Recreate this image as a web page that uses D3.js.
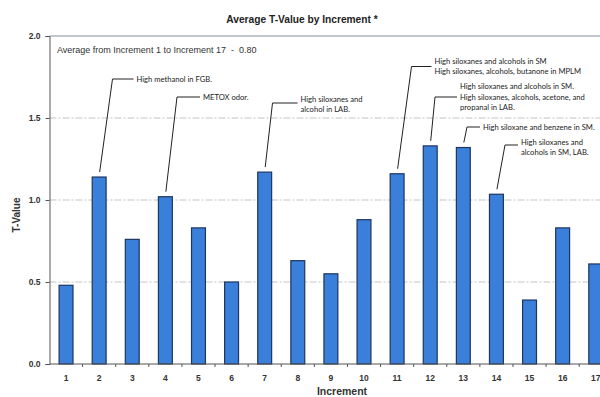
<!DOCTYPE html>
<html lang="en">
<head>
    <meta charset="UTF-8">
    <title>Average T-Value by Increment</title>
    <script src="https://d3js.org/d3.v7.min.js"></script>
    <style>
        body { margin: 0; background: #fff; }
        svg { display: block; }
    </style>
</head>
<body>
<svg width="600" height="397"></svg>
<script>

    // Data
    const increments = ["1","2","3","4","5","6","7","8","9","10","11","12","13","14","15","16","17"];
    const tValues = [0.48, 1.14, 0.76, 1.02, 0.83, 0.50, 1.17, 0.63, 0.55, 0.88, 1.16, 1.33, 1.32, 1.035, 0.39, 0.83, 0.61];
    const yTicks = [0, 0.5, 1.0, 1.5, 2.0];
    const averageNote = "Average from Increment 1 to Increment 17\u00a0\u00a0-\u00a0\u00a00.80";

    // annotation texts, keyed by increment
    const noteIncrements = ["2", "4", "7", "11", "12", "13", "14"];
    const noteTexts = [
        ["High methanol in FGB."],
        ["METOX odor."],
        ["High siloxanes and", "alcohol in LAB."],
        ["High siloxanes and alcohols in SM", "High siloxanes, alcohols, butanone in MPLM"],
        ["High siloxanes and alcohols in SM.", "High siloxanes, alcohols, acetone, and", "propanal in LAB."],
        ["High siloxane and benzene in SM."],
        ["High siloxanes and", "alcohols in SM, LAB."]
    ];

    // where each leader line bends (elbow x, elbow y, length of flat part, line index the flat part points at)
    const noteLayout = [
        [112.5, 79, 21, 0],
        [177, 97, 23, 0],
        [272.5, 103, 25, 0.35],
        [411.5, 66.5, 20, 0.5],
        [435, 97, 22, 1],
        [467, 127, 13, 0],
        [505, 145, 13, 0.25]
    ];

    const svg = d3.select("svg");
    const mLeft = 49.5, mTop = 36, mBottom = 364, mRight = 612.3;

    const x = d3.scaleBand()
        .domain(increments)
        .range([mLeft, mRight]);

    const y = d3.scaleLinear()
        .domain([0, 2])
        .range([mBottom, mTop]);

    const barW = x.bandwidth() * 0.42;

    // gridlines
    svg.append("g")
        .selectAll("line")
        .data(yTicks.filter(d => d > 0 && d < 2))
        .enter().append("line")
        .attr("x1", mLeft).attr("x2", 600)
        .attr("y1", d => y(d)).attr("y2", d => y(d))
        .attr("stroke", "#c4c4c4")
        .attr("stroke-width", 1)
        .attr("stroke-dasharray", "7,2,2,2");

    // top border at 2.0
    svg.append("line")
        .attr("x1", mLeft).attr("x2", 600)
        .attr("y1", y(2)).attr("y2", y(2))
        .attr("stroke", "#7f9096")
        .attr("stroke-width", 1);

    // bars
    svg.append("g")
        .selectAll("rect")
        .data(tValues)
        .enter().append("rect")
        .attr("x", (d, i) => x(increments[i]) + x.bandwidth() / 2 - barW / 2)
        .attr("y", d => y(d))
        .attr("width", barW)
        .attr("height", d => y(0) - y(d))
        .attr("fill", "#3a7fd9")
        .attr("stroke", "#1e3560")
        .attr("stroke-width", 1.2);

    // y axis
    const yAxis = d3.axisLeft(y)
        .tickValues(yTicks)
        .tickFormat(d3.format(".1f"))
        .tickSize(4)
        .tickPadding(5);
    const gy = svg.append("g")
        .attr("transform", `translate(${mLeft},0)`)
        .call(yAxis);
    gy.select(".domain").attr("stroke", "#555");
    gy.selectAll(".tick line").attr("stroke", "#555");
    gy.selectAll("text")
        .attr("font-family", "Liberation Sans, Arial, sans-serif")
        .attr("font-size", 8.5)
        .attr("font-weight", "bold")
        .attr("fill", "#333");

    // x axis, tick marks at band edges
    const gx = svg.append("g")
        .attr("transform", `translate(0,${mBottom})`);
    gx.append("line")
        .attr("x1", mLeft).attr("x2", 600)
        .attr("stroke", "#555");
    gx.selectAll("line.edge")
        .data(increments.slice(1))
        .enter().append("line")
        .attr("class", "edge")
        .attr("x1", d => x(d)).attr("x2", d => x(d))
        .attr("y1", 0).attr("y2", 3)
        .attr("stroke", "#555");
    gx.selectAll("text")
        .data(increments)
        .enter().append("text")
        .attr("x", d => x(d) + x.bandwidth() / 2)
        .attr("y", 17)
        .attr("text-anchor", "middle")
        .attr("font-family", "Liberation Sans, Arial, sans-serif")
        .attr("font-size", 8.5)
        .attr("font-weight", "bold")
        .attr("fill", "#333")
        .text(d => d);

    // titles
    svg.append("text")
        .attr("x", 302).attr("y", 23)
        .attr("text-anchor", "middle")
        .attr("font-family", "Liberation Sans, Arial, sans-serif")
        .attr("font-size", 10.2)
        .attr("font-weight", "bold")
        .attr("fill", "#222")
        .text("Average T-Value by Increment *");

    svg.append("text")
        .attr("transform", "translate(20,215) rotate(-90)")
        .attr("text-anchor", "middle")
        .attr("font-family", "Liberation Sans, Arial, sans-serif")
        .attr("font-size", 10)
        .attr("font-weight", "bold")
        .attr("fill", "#333")
        .text("T-Value");

    svg.append("text")
        .attr("x", 342).attr("y", 395)
        .attr("text-anchor", "middle")
        .attr("font-family", "Liberation Sans, Arial, sans-serif")
        .attr("font-size", 10.5)
        .attr("font-weight", "bold")
        .attr("fill", "#333")
        .text("Increment");

    svg.append("text")
        .attr("x", 57).attr("y", 53)
        .attr("font-family", "Liberation Sans, Arial, sans-serif")
        .attr("font-size", 9)
        .attr("fill", "#333")
        .text(averageNote);

    // annotations with leader lines
    const lineH = 10.5;
    noteIncrements.forEach((inc, k) => {
        const i = increments.indexOf(inc);
        const [ex, ey, len, anchor] = noteLayout[k];
        const bx = x(inc) + x.bandwidth() / 2 + 0.5;
        const by = y(tValues[i]) - 5;
        svg.append("path")
            .attr("d", `M${bx},${by}L${ex},${ey}L${ex + len},${ey}`)
            .attr("fill", "none")
            .attr("stroke", "#222")
            .attr("stroke-width", 1);
        const t = svg.append("text")
            .attr("font-family", "Lato, Carlito, sans-serif")
            .attr("font-size", 7.6)
            .attr("fill", "#222");
        noteTexts[k].forEach((line, j) => {
            t.append("tspan")
                .attr("x", ex + len + 3)
                .attr("y", ey + (j - anchor) * lineH + 2.5)
                .text(line);
        });
    });

</script>
</body>
</html>
